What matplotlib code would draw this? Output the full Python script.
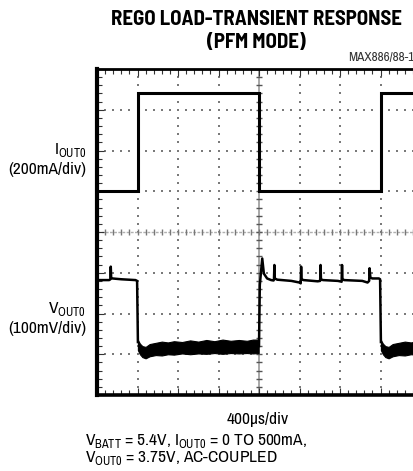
import numpy as np
import matplotlib
matplotlib.use("Agg")
import matplotlib.pyplot as plt
from matplotlib.ticker import MultipleLocator

# ---------------- data (in scope divisions) ----------------
# I_OUT0 trace (200 mA/div)
iout_x = [0.0, 1.02, 1.02, 4.0, 4.0, 7.0, 7.0, 8.0]
iout_y = [5.0, 5.0, 7.40, 7.40, 5.0, 5.0, 7.40, 7.40]

# V_OUT0 trace, high (light load, PFM ripple) segments
vout_hi1_x = [0.0, 0.30, 0.33, 0.34, 0.35, 0.38, 0.60, 0.95, 0.99, 1.01]
vout_hi1_y = [2.82, 2.82, 2.84, 3.15, 2.88, 2.86, 2.84, 2.82, 2.80, 1.30]

vout_hi2_x = [4.00, 4.02, 4.08, 4.12, 4.20, 4.30, 4.36, 4.37, 4.38, 4.39, 4.45,
              4.80, 5.00, 5.03, 5.04, 5.05, 5.10, 5.45, 5.51, 5.52, 5.53,
              5.58, 5.95, 6.04, 6.05, 6.06, 6.10, 6.55, 6.68, 6.72, 6.73,
              6.75, 6.80, 6.96, 6.99, 7.01]
vout_hi2_y = [1.20, 2.70, 3.35, 2.98, 2.86, 2.82, 2.81, 2.84, 3.19, 2.86, 2.83,
              2.80, 2.76, 2.74, 3.15, 2.84, 2.82, 2.79, 2.80, 3.19, 2.84,
              2.82, 2.80, 2.78, 3.19, 2.85, 2.82, 2.80, 2.76, 2.80, 3.11,
              2.88, 2.86, 2.86, 2.84, 1.30]

# V_OUT0 heavy-load segments: noisy band (lower / upper envelope)
band1_x  = [1.01, 1.06, 1.12, 1.20, 1.30, 1.45, 1.60, 1.75, 1.90, 2.10, 2.30,
            2.50, 2.70, 2.90, 3.10, 3.30, 3.50, 3.70, 3.85, 3.99]
band1_lo = [1.10, 1.00, 0.93, 0.90, 0.95, 0.98, 0.97, 1.00, 0.99, 1.02, 1.00,
            1.02, 1.01, 1.03, 1.01, 1.03, 1.02, 1.03, 1.02, 1.03]
band1_hi = [1.35, 1.26, 1.20, 1.18, 1.25, 1.28, 1.31, 1.29, 1.32, 1.30, 1.34,
            1.31, 1.35, 1.32, 1.36, 1.33, 1.35, 1.33, 1.36, 1.36]

band2_x  = [7.01, 7.06, 7.12, 7.20, 7.30, 7.45, 7.60, 7.75, 7.90, 8.00]
band2_lo = [1.10, 1.00, 0.93, 0.90, 0.95, 0.98, 0.97, 1.00, 0.99, 1.01]
band2_hi = [1.35, 1.26, 1.20, 1.18, 1.25, 1.28, 1.31, 1.29, 1.32, 1.31]

n_div = 8

# ---------------- figure ----------------
W, H = 414, 471
fig = plt.figure(figsize=(W / 100, H / 100), dpi=100)
body = ["Archivo Narrow", "Liberation Sans", "DejaVu Sans"]
head = ["Barlow Semi Condensed", "Asap Condensed", "Liberation Sans", "DejaVu Sans"]
plt.rcParams["font.family"] = body
plt.rcParams["mathtext.fontset"] = "custom"
plt.rcParams["mathtext.rm"] = "Archivo Narrow"

L, T, R, B = 97, 69, 421, 395
ax = fig.add_axes([L / W, 1 - B / H, (R - L) / W, (B - T) / H])
ax.set_xlim(0, n_div)
ax.set_ylim(0, n_div)

# graticule: dotted grid lines
dots = np.arange(0, n_div + 0.001, 0.2)
for g in range(1, n_div):
    if g == n_div // 2:
        continue
    ax.scatter(np.full_like(dots, g), dots, s=0.6, marker="s", color="#7a7a7a",
               linewidths=0, zorder=1)
    ax.scatter(dots, np.full_like(dots, g), s=0.6, marker="s", color="#7a7a7a",
               linewidths=0, zorder=1)
# centre lines with minor ticks
c = n_div / 2
ax.axvline(c, color="#a8a8a8", lw=1.4, zorder=1)
ax.axhline(c, color="#b0b0b0", lw=1.0, ls=(0, (2, 1)), zorder=1)
ax.plot(np.full_like(dots, c), dots, ls="none", marker="_", ms=5, mew=1.0,
        color="#555555", zorder=1.5)
ax.plot(dots, np.full_like(dots, c), ls="none", marker="|", ms=5, mew=1.0,
        color="#777777", zorder=1.5)

# traces
ax.plot(iout_x, iout_y, color="black", lw=2.2, solid_joinstyle="miter", zorder=3)
ax.plot(vout_hi1_x, vout_hi1_y, color="black", lw=1.8, zorder=3)
ax.plot(vout_hi2_x, vout_hi2_y, color="black", lw=1.8, zorder=3)
ax.fill_between(band1_x, band1_lo, band1_hi, color="black", lw=0.8, zorder=3)
ax.fill_between(band2_x, band2_lo, band2_hi, color="black", lw=0.8, zorder=3)

# frame and border ticks
for side, lw in (("left", 3.0), ("bottom", 2.6), ("top", 2.0), ("right", 2.0)):
    ax.spines[side].set_linewidth(lw)
ax.xaxis.set_major_locator(MultipleLocator(1))
ax.yaxis.set_major_locator(MultipleLocator(1))
ax.xaxis.set_minor_locator(MultipleLocator(0.2))
ax.yaxis.set_minor_locator(MultipleLocator(0.2))
ax.tick_params(which="both", direction="in", top=True, right=True,
               labelbottom=False, labelleft=False, color="#333333", width=0.8)
ax.tick_params(which="major", length=5)
ax.tick_params(which="minor", length=3.5)

def fx(x):
    return x / W

def fy(y):
    return 1 - y / H

fs = 12.5
# texts
fig.text(fx(256), fy(31), "REGO LOAD-TRANSIENT RESPONSE\n(PFM MODE)", ha="center",
         va="center", fontsize=15, fontweight="bold", linespacing=1.25,
         family=head)
fig.text(fx(414), fy(58), "MAX886/88-1", ha="right", va="center", fontsize=9.5,
         color="#333333")
fig.text(fx(86), fy(154), r"I$_{\mathregular{OUT0}}$", ha="right", va="baseline",
         fontsize=fs)
fig.text(fx(86), fy(174), "(200mA/div)", ha="right", va="baseline", fontsize=fs)
fig.text(fx(86), fy(313), r"V$_{\mathregular{OUT0}}$", ha="right", va="baseline",
         fontsize=fs)
fig.text(fx(86), fy(333), "(100mV/div)", ha="right", va="baseline", fontsize=fs)
fig.text(fx(258), fy(424), "400\u00b5s/div", ha="center", va="baseline",
         fontsize=fs)
fig.text(fx(85), fy(445), r"V$_{\mathregular{BATT}}$ = 5.4V, I$_{\mathregular{OUT0}}$ = 0 TO 500mA,",
         ha="left", va="baseline", fontsize=fs)
fig.text(fx(85), fy(462), r"V$_{\mathregular{OUT0}}$ = 3.75V, AC-COUPLED",
         ha="left", va="baseline", fontsize=fs)

fig.savefig("out.png", dpi=100)
